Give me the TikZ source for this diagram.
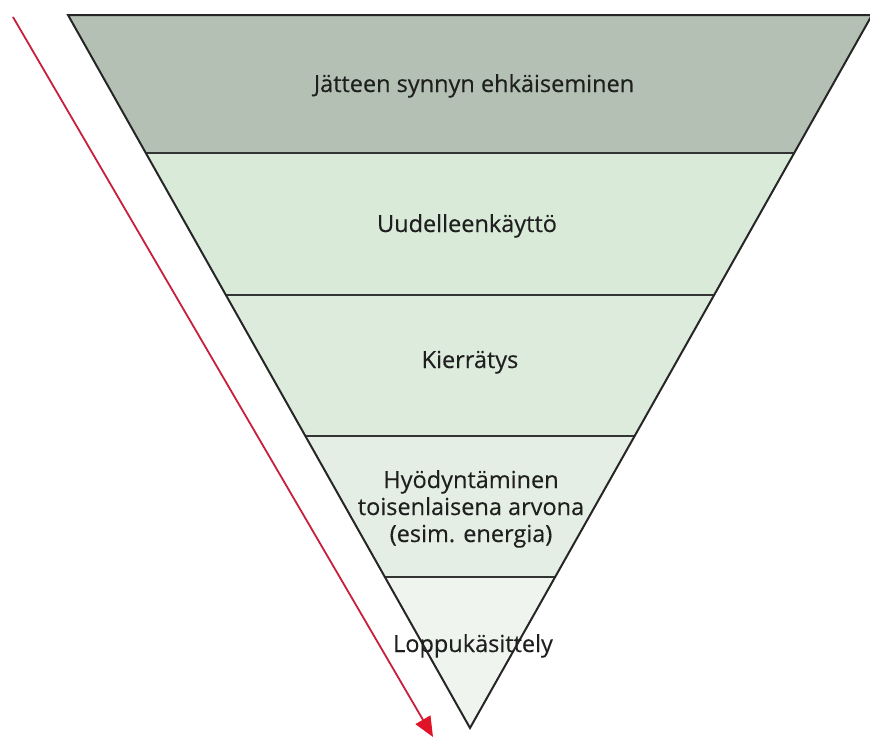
\documentclass[tikz,border=0pt]{standalone}
\usepackage{fontspec}
\setmainfont{Open Sans}
\newfontfamily\labelfont{Open Sans}[FakeBold=0.3]
\usetikzlibrary{calc,arrows.meta}
\definecolor{bandA}{HTML}{B3C0B3}
\definecolor{bandB}{HTML}{D9EAD9}
\definecolor{bandC}{HTML}{DCEBDC}
\definecolor{bandD}{HTML}{E4EEE4}
\definecolor{bandE}{HTML}{EFF4EF}
\definecolor{arrowline}{HTML}{C8203C}
\definecolor{arrowhead}{HTML}{E01428}
\tikzset{
  label text/.style={font=\labelfont\fontsize{23.5}{27}\selectfont, text=black!88, align=center, inner sep=0pt, anchor=base},
  outline/.style={draw=black!85, line width=2pt, line join=miter},
  divider/.style={draw=black!80, line width=2pt},
}
\begin{document}
\begin{tikzpicture}[x=1pt,y=-1pt]
\useasboundingbox (0,0) rectangle (870,737);
% corners of the inverted triangle
\coordinate (L) at (68,15);
\coordinate (R) at (872,15);
\coordinate (A) at (470,728);
% band boundaries along the two sides
\foreach \n/\t in {1/0.19355,2/0.39271,3/0.59046,4/0.78822}{
  \coordinate (l\n) at ($(L)!\t!(A)$);
  \coordinate (r\n) at ($(R)!\t!(A)$);
}
% band fills
\fill[bandA] (L) -- (R) -- (r1) -- (l1) -- cycle;
\fill[bandB] (l1) -- (r1) -- (r2) -- (l2) -- cycle;
\fill[bandC] (l2) -- (r2) -- (r3) -- (l3) -- cycle;
\fill[bandD] (l3) -- (r3) -- (r4) -- (l4) -- cycle;
\fill[bandE] (l4) -- (r4) -- (A) -- cycle;
% dividers
\foreach \n in {1,2,3,4}{ \draw[divider] (l\n) -- (r\n); }
% outline
\draw[outline] (L) -- (R) -- (A) -- cycle;
% labels
\node[label text] (t1) at (474,92) {Jätteen synnyn ehkäiseminen};
\node[label text] (t2) at (467,232) {Uudelleenkäyttö};
\node[label text] (t3) at (470,368) {Kierrätys};
\node[label text] (t4) at (471,542) {Hyödyntäminen\\toisenlaisena arvona\\(esim. energia)};
\node[label text] (t5) at (473,652) {Loppukäsittely};
% direction arrow
\coordinate (s) at (13,17);
\coordinate (e) at (433,737);
\draw[arrowline, line width=1.8pt, -{Triangle[length=20pt,width=17pt,color=arrowhead]}] (s) -- (e);
\end{tikzpicture}
\end{document}
